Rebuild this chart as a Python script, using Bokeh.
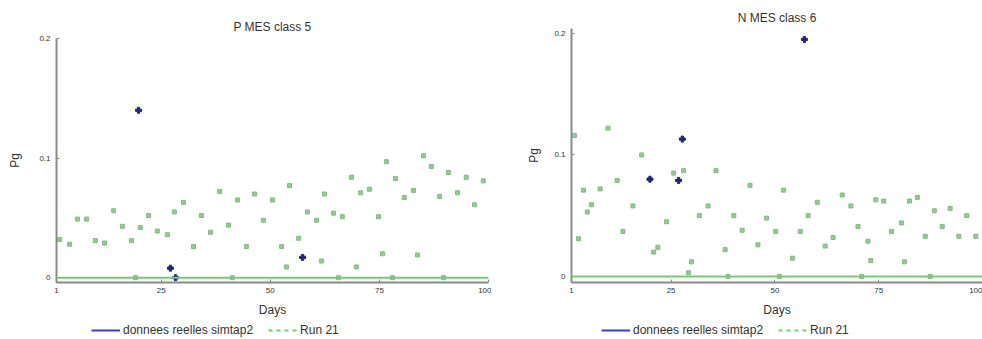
from bokeh.plotting import figure
from bokeh.layouts import row, column
from bokeh.models import (Span, Legend, LegendItem, FixedTicker, Range1d,
                          ColumnDataSource)
from bokeh.embed import file_html
from bokeh.resources import INLINE

# ---------------- data ----------------
x_ticks = [1, 25, 50, 75, 100]
y_ticks = [0, 0.1, 0.2]

left_title = "P MES class 5"
right_title = "N MES class 6"
legend_obs = "donnees reelles simtap2"
legend_run = "Run 21"

left_run_days = [1.7, 4.0, 5.8, 7.9, 9.9, 12.0, 14.1, 16.1, 18.2, 19.1, 20.2, 22.1,
                 24.1, 26.4, 28.0, 30.1, 32.4, 34.2, 36.3, 38.4, 40.4, 41.3, 42.5,
                 44.5, 46.4, 48.4, 50.5, 52.6, 53.7, 54.4, 56.5, 58.5, 60.6, 61.7,
                 62.4, 64.5, 65.6, 66.5, 68.6, 69.7, 70.7, 72.7, 74.8, 75.7, 76.6,
                 78.0, 78.7, 80.7, 82.8, 83.7, 85.1, 86.9, 88.8, 89.7, 90.8, 92.9,
                 94.9, 96.8, 98.8]
left_run_vals = [0.032, 0.028, 0.049, 0.049, 0.031, 0.029, 0.056, 0.043, 0.031, 0.0,
                 0.042, 0.052, 0.039, 0.036, 0.055, 0.063, 0.026, 0.052, 0.038, 0.072,
                 0.044, 0.0, 0.065, 0.026, 0.070, 0.048, 0.065, 0.026, 0.009, 0.077,
                 0.033, 0.055, 0.048, 0.014, 0.070, 0.054, 0.0, 0.051, 0.084, 0.009,
                 0.071, 0.074, 0.051, 0.020, 0.097, 0.0, 0.083, 0.067, 0.073, 0.019,
                 0.102, 0.093, 0.068, 0.0, 0.088, 0.071, 0.084, 0.061, 0.081]
left_obs_days = [19.8, 27.1, 28.3, 57.4]
left_obs_vals = [0.140, 0.008, 0.0, 0.017]

right_run_days = [1.7, 2.7, 3.9, 4.8, 5.8, 7.9, 9.8, 12.0, 13.4, 15.8, 17.9, 20.8,
                  21.8, 23.9, 25.6, 28.0, 29.2, 29.9, 31.8, 33.9, 35.8, 38.0, 38.7,
                  40.1, 42.1, 44.0, 45.9, 48.0, 50.2, 51.1, 52.1, 54.2, 56.1, 58.0,
                  60.2, 62.1, 64.0, 66.2, 68.3, 70.0, 70.9, 72.4, 73.1, 74.3, 76.2,
                  78.1, 80.5, 81.2, 82.4, 84.3, 86.2, 87.4, 88.4, 90.3, 92.2, 94.3,
                  96.2, 98.4]
right_run_vals = [0.116, 0.031, 0.071, 0.053, 0.059, 0.072, 0.122, 0.079, 0.037,
                  0.058, 0.100, 0.020, 0.024, 0.045, 0.085, 0.087, 0.003, 0.012,
                  0.050, 0.058, 0.087, 0.022, 0.0, 0.050, 0.038, 0.075, 0.026,
                  0.048, 0.037, 0.0, 0.071, 0.015, 0.037, 0.050, 0.061, 0.025,
                  0.032, 0.067, 0.058, 0.041, 0.0, 0.029, 0.013, 0.063, 0.062,
                  0.037, 0.044, 0.012, 0.062, 0.065, 0.033, 0.0, 0.054, 0.041,
                  0.056, 0.033, 0.050, 0.033]
right_obs_days = [19.9, 26.8, 27.7, 57.1]
right_obs_vals = [0.080, 0.079, 0.113, 0.195]

# ---------------- styling ----------------
FONT = "Liberation Sans"
BLUE = "#23237e"
GREEN = "#8fcf8f"
GREEN_LINE = "#6fcf6f"
AXIS = "#8a8a8a"
TEXT = "#333333"
MAIN_H = 319
LEG_H = 20
NAN = float("nan")


def make_fig(title, run_d, run_v, obs_d, obs_v, y_end, y_start, b_left, b_top,
             b_right, ylab_standoff, title_standoff):
    p = figure(width=491, height=MAIN_H, output_backend="svg", toolbar_location=None,
               x_range=Range1d(1, 100), y_range=Range1d(y_start, y_end),
               min_border_left=b_left, min_border_right=b_right,
               min_border_top=b_top, min_border_bottom=MAIN_H - 284, title=title)
    p.title.text_font = FONT
    p.title.text_font_size = "12px"
    p.title.text_font_style = "normal"
    p.title.text_color = TEXT
    p.title.align = "center"
    p.title.standoff = title_standoff
    p.outline_line_color = None
    p.grid.visible = False
    p.background_fill_color = "white"
    p.border_fill_color = "white"

    for ax in (p.xaxis[0], p.yaxis[0]):
        ax.axis_line_color = AXIS
        ax.axis_line_width = 2
        ax.major_tick_line_color = AXIS
        ax.major_tick_in = 3
        ax.major_tick_out = 0
        ax.minor_tick_line_color = None
        ax.major_label_text_font = FONT
        ax.major_label_text_font_size = "8px"
        ax.major_label_text_color = TEXT
        ax.axis_label_text_font = FONT
        ax.axis_label_text_font_size = "12px"
        ax.axis_label_text_font_style = "normal"
        ax.axis_label_text_color = TEXT

    p.xaxis.ticker = FixedTicker(ticks=x_ticks)
    p.yaxis.ticker = FixedTicker(ticks=y_ticks)
    p.yaxis.major_label_overrides = {0: "0", 0.1: "0.1", 0.2: "0.2"}
    p.xaxis.axis_label = "Days"
    p.yaxis.axis_label = "Pg"
    p.xaxis.major_label_standoff = 5
    p.xaxis.axis_label_standoff = 7
    p.yaxis.major_label_standoff = 6
    p.yaxis.axis_label_standoff = ylab_standoff

    p.add_layout(Span(location=0, dimension="width", line_color=GREEN_LINE,
                      line_width=2))

    src_run = ColumnDataSource(dict(x=run_d, y=run_v))
    src_obs = ColumnDataSource(dict(x=obs_d, y=obs_v))
    p.scatter("x", "y", source=src_run, marker="square", size=4,
              fill_color=GREEN, line_color="#8ab58a", line_width=1)
    p.scatter("x", "y", source=src_obs, marker="plus", size=6,
              fill_color=BLUE, line_color=BLUE, line_width=1)
    return p


def make_legend(x_off):
    lf = figure(width=491, height=LEG_H, output_backend="svg", toolbar_location=None,
                x_range=Range1d(0, 1), y_range=Range1d(0, 1),
                x_axis_location=None, y_axis_location=None,
                min_border=0, min_border_left=0, min_border_right=0,
                min_border_top=0, min_border_bottom=0)
    lf.outline_line_color = None
    lf.grid.visible = False
    # legend-only renderers: a single missing value, nothing is drawn in the frame
    r_obs = lf.line(x=[NAN], y=[NAN], line_color="#3b3bd0", line_width=2)
    r_run = lf.line(x=[NAN], y=[NAN], line_color=GREEN_LINE, line_width=2,
                    line_dash="4 4")
    leg = Legend(items=[LegendItem(label=legend_obs, renderers=[r_obs]),
                        LegendItem(label=legend_run, renderers=[r_run])],
                 orientation="horizontal", location=(x_off, 2))
    leg.label_text_font = FONT
    leg.label_text_font_size = "12px"
    leg.label_text_color = TEXT
    leg.glyph_width = 29
    leg.glyph_height = 14
    leg.label_height = 14
    leg.label_standoff = 3
    leg.spacing = 15
    leg.padding = 2
    leg.margin = 0
    leg.border_line_color = None
    leg.background_fill_alpha = 0
    lf.add_layout(leg, "center")
    return lf


p1 = make_fig(left_title, left_run_days, left_run_vals, left_obs_days,
              left_obs_vals, 0.2, -0.004, 56, 38, 3, 14, 10)
p2 = make_fig(right_title, right_run_days, right_run_vals, right_obs_days,
              right_obs_vals, 0.204, -0.005, 80, 28, 0, 10, 7)
l1 = make_legend(35)
l2 = make_legend(30)

p = row(column(p1, l1), column(p2, l2))
open("out.html", "w").write(file_html(p, INLINE))
